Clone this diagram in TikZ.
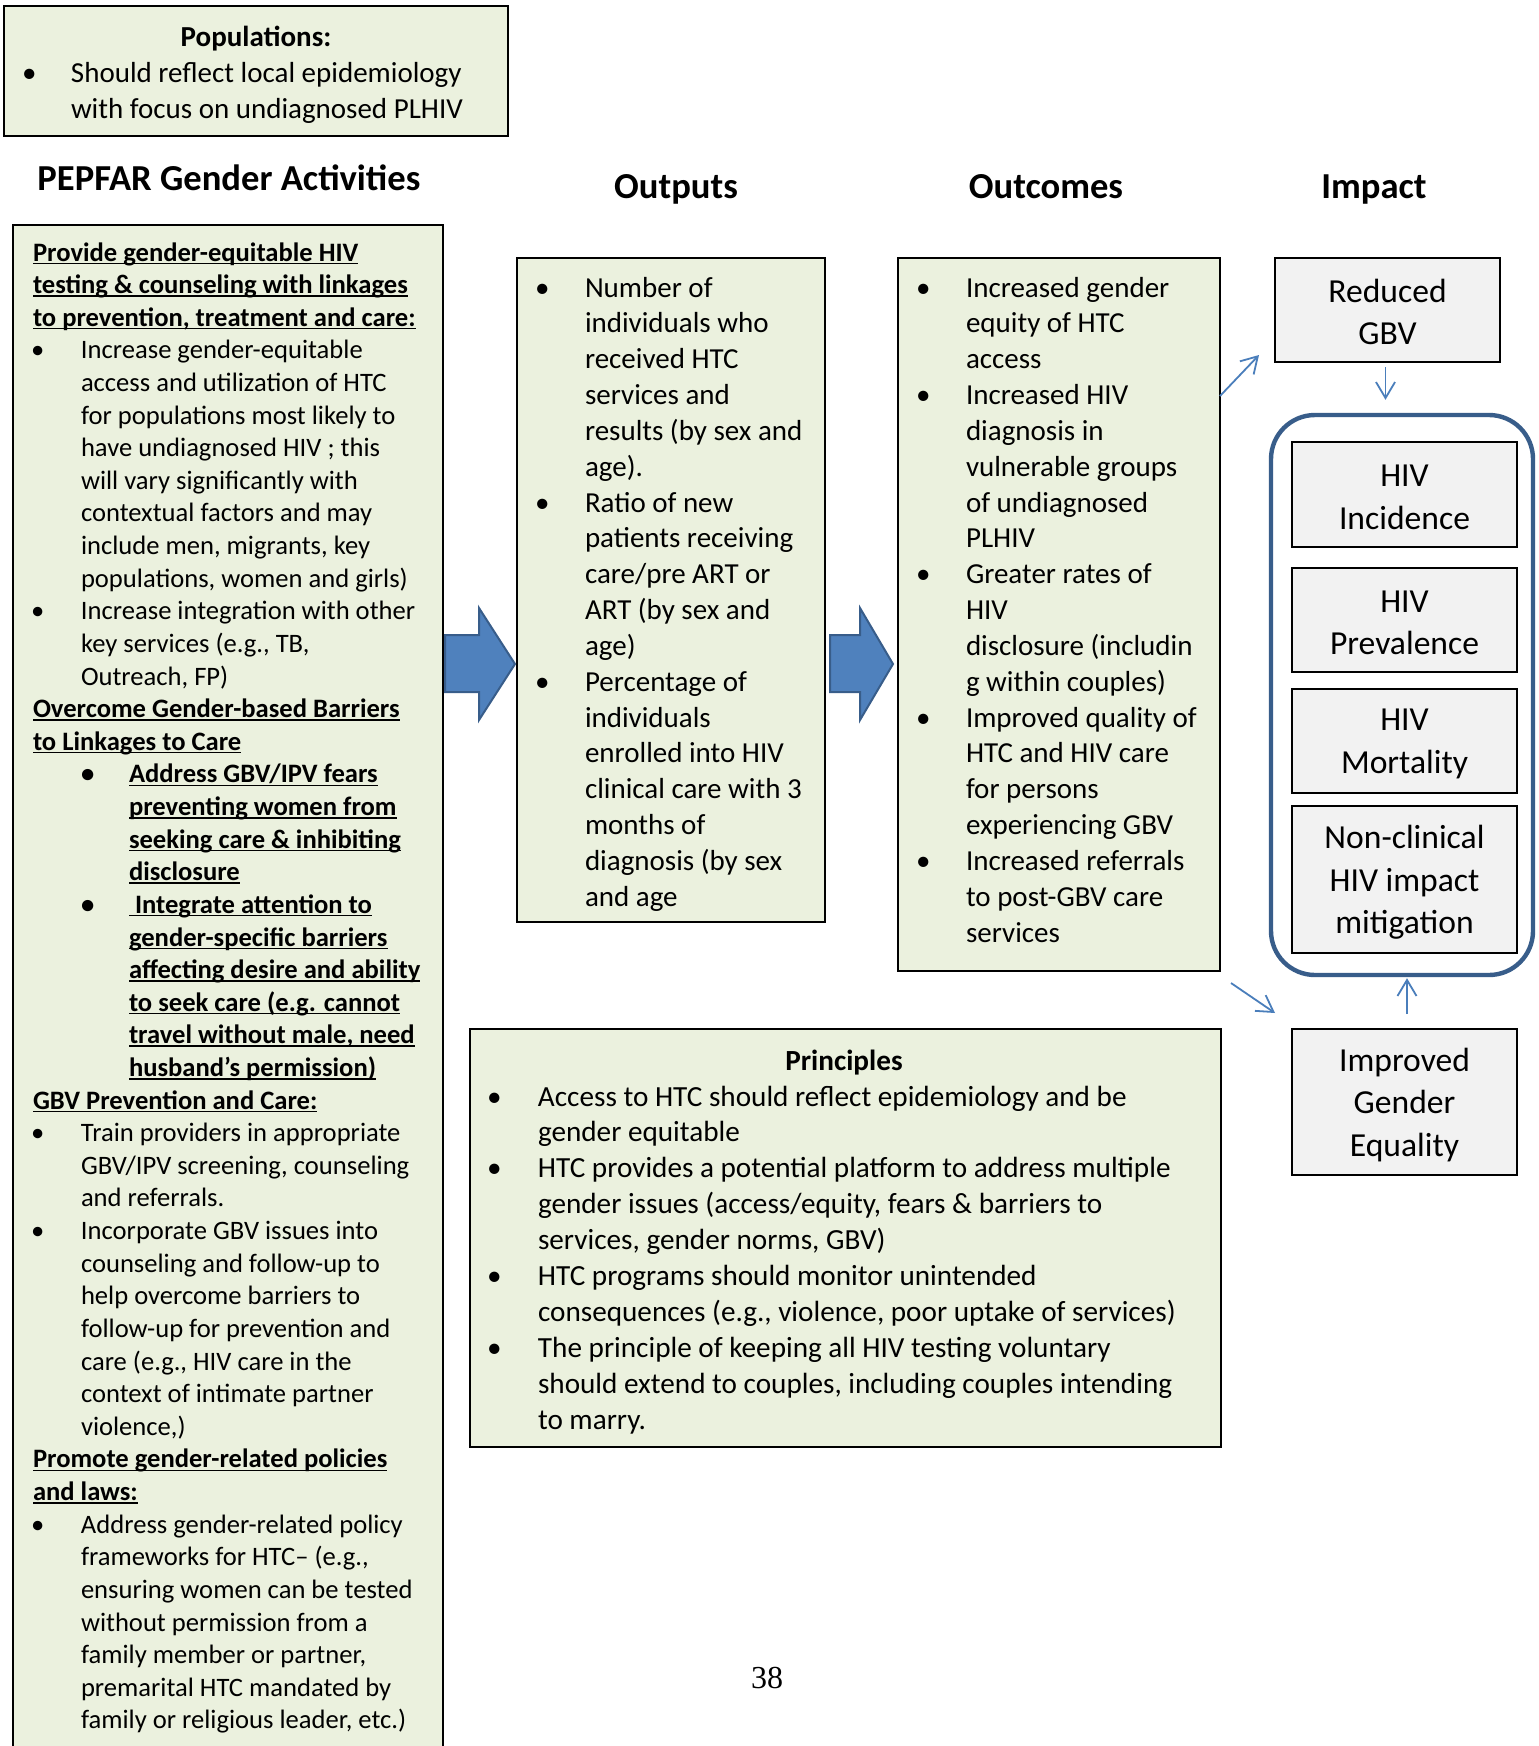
\documentclass[tikz,border=0pt]{standalone}
\usepackage{fontspec}
\setmainfont{Carlito}
\newfontfamily\timesfont{Liberation Serif}
\usetikzlibrary{calc,fit,arrows.meta}
\definecolor{boxgreen}{HTML}{EBF1DE}
\definecolor{boxgray}{HTML}{F2F2F2}
\definecolor{arrowblue}{HTML}{4F81BD}
\definecolor{arrowedge}{HTML}{385D8A}
\definecolor{thinblue}{HTML}{4A7EBB}
\newcommand\blk[2]{\vtop{\baselineskip=#1\relax\lineskiplimit=-100pt\lineskip=0pt\halign{##\hfil\cr#2\crcr}}}
\newcommand\ulb[1]{\setbox0\hbox{\bfseries #1}\rlap{\rule[-1.5pt]{\wd0}{0.7pt}}\box0}
\newcommand\bul{\hspace*{-3pt}•}
\newcommand\bA{\hspace*{2pt}\makebox[22pt][l]{\bul}}
\newcommand\cA{\hspace*{24pt}}
\newcommand\bB{\hspace*{27pt}\makebox[21pt][l]{\bfseries\bul}}
\newcommand\cB{\hspace*{48pt}}
\newcommand\bO{\makebox[22pt][l]{\bul}}
\newcommand\cO{\hspace*{22pt}}
\newcommand\bU{\makebox[21.5pt][l]{\bul}}
\newcommand\cU{\hspace*{21.5pt}}
\newcommand\bP{\makebox[22.5pt][l]{\bul}}
\newcommand\cP{\hspace*{22.5pt}}
\tikzset{
  greenbox/.style={draw=black, line width=1pt, fill=boxgreen, inner sep=0pt, outer sep=0pt},
  graybox/.style={draw=black, line width=1pt, fill=boxgray, inner sep=0pt, outer sep=0pt},
  txt/.style={anchor=base west, inner sep=0pt, outer sep=0pt},
  heading/.style={anchor=base, inner sep=0pt, font=\bfseries\fontsize{18.3}{22}\selectfont},
  imptext/.style={align=center, inner sep=0pt, font=\fontsize{16.8}{21.2}\selectfont},
  blockarrow/.style={fill=arrowblue, draw=arrowedge, line width=1pt, line join=miter},
  thinarrow/.style={draw=thinblue, line width=0.9pt, -{Straight Barb[length=8pt,width=9.5pt]}},
}
\begin{document}
\begin{tikzpicture}[x=0.5pt,y=-0.5pt]
\useasboundingbox[fill=white] (0,0) rectangle (1538,1746);
\clip (0,0) rectangle (1538,1746);

% Populations box
\node[greenbox, fit={(4,6) (508,136)}] (pop) {};
\node[anchor=base, inner sep=0pt, font=\bfseries\fontsize{14.5}{18}\selectfont] (poptitle) at (256,46) {Populations:};
\node[txt, font=\fontsize{14.5}{18}\selectfont] (poptext) at (28,82) {\blk{18pt}{%
\bU Should reflect local epidemiology\cr
\cU with focus on undiagnosed PLHIV\cr}};

% Headings
\node[heading] (hpep) at (229,190) {PEPFAR Gender Activities};
\node[heading] (hout) at (676,198) {Outputs};
\node[heading] (houtc) at (1046,198) {Outcomes};
\node[heading] (himp) at (1374,198) {Impact};

% Activities box
\node[greenbox, fit={(13,225) (443,1770)}] (act) {};
\node[txt, font=\fontsize{13.3}{16.31}\selectfont] (acttext) at (33,261) {\blk{16.31pt}{%
\ulb{Provide gender-equitable HIV}\cr
\ulb{testing \& counseling with linkages}\cr
\ulb{to prevention, treatment and care:}\cr
\bA Increase gender-equitable\cr
\cA access and utilization of HTC\cr
\cA for populations most likely to\cr
\cA have undiagnosed HIV ; this\cr
\cA will vary significantly with\cr
\cA contextual factors and may\cr
\cA include men, migrants, key\cr
\cA populations, women and girls)\cr
\bA Increase integration with other\cr
\cA key services (e.g., TB,\cr
\cA Outreach, FP)\cr
\ulb{Overcome Gender-based Barriers}\cr
\ulb{to Linkages to Care}\cr
\bB\ulb{Address GBV/IPV fears}\cr
\cB\ulb{preventing women from}\cr
\cB\ulb{seeking care \& inhibiting}\cr
\cB\ulb{disclosure}\cr
\bB\ulb{\ Integrate attention to}\cr
\cB\ulb{gender-specific barriers}\cr
\cB\ulb{affecting desire and ability}\cr
\cB\ulb{to seek care (e.g. cannot}\cr
\cB\ulb{travel without male, need}\cr
\cB\ulb{husband’s permission)}\cr
\ulb{GBV Prevention and Care:}\cr
\bA Train providers in appropriate\cr
\cA GBV/IPV screening, counseling\cr
\cA and referrals.\cr
\bA Incorporate GBV issues into\cr
\cA counseling and follow-up to\cr
\cA help overcome barriers to\cr
\cA follow-up for prevention and\cr
\cA care (e.g., HIV care in the\cr
\cA context of intimate partner\cr
\cA violence,)\cr
\ulb{Promote gender-related policies}\cr
\ulb{and laws:}\cr
\bA Address gender-related policy\cr
\cA frameworks for HTC– (e.g.,\cr
\cA ensuring women can be tested\cr
\cA without permission from a\cr
\cA family member or partner,\cr
\cA premarital HTC mandated by\cr
\cA family or religious leader, etc.)\cr}};

% Outputs box
\node[greenbox, fit={(517,258) (825,922)}] (outp) {};
\node[txt, font=\fontsize{14.5}{17.92}\selectfont] (outptext) at (541,297) {\blk{17.92pt}{%
\bO Number of\cr
\cO individuals who\cr
\cO received HTC\cr
\cO services and\cr
\cO results (by sex and\cr
\cO age).\cr
\bO Ratio of new\cr
\cO patients receiving\cr
\cO care/pre ART or\cr
\cO ART (by sex and\cr
\cO age)\cr
\bO Percentage of\cr
\cO individuals\cr
\cO enrolled into HIV\cr
\cO clinical care with 3\cr
\cO months of\cr
\cO diagnosis (by sex\cr
\cO and age\cr}};

% Outcomes box
\node[greenbox, fit={(898,258) (1220,971)}] (outc) {};
\node[txt, font=\fontsize{14.5}{17.92}\selectfont] (outctext) at (922,297) {\blk{17.92pt}{%
\bO Increased gender\cr
\cO equity of HTC\cr
\cO access\cr
\bO Increased HIV\cr
\cO diagnosis in\cr
\cO vulnerable groups\cr
\cO of undiagnosed\cr
\cO PLHIV\cr
\bO Greater rates of\cr
\cO HIV\cr
\cO disclosure (includin\cr
\cO g within couples)\cr
\bO Improved quality of\cr
\cO HTC and HIV care\cr
\cO for persons\cr
\cO experiencing GBV\cr
\bO Increased referrals\cr
\cO to post-GBV care\cr
\cO services\cr}};

% Principles box
\node[greenbox, fit={(470,1029) (1221,1447)}] (prin) {};
\node[anchor=base, inner sep=0pt, font=\bfseries\fontsize{14.6}{17.95}\selectfont] (printitle) at (844,1070) {Principles};
\node[txt, font=\fontsize{14.6}{17.95}\selectfont] (printext) at (493,1106) {\blk{17.95pt}{%
\bP Access to HTC should reflect epidemiology and be\cr
\cP gender equitable\cr
\bP HTC provides a potential platform to address multiple\cr
\cP gender issues (access/equity, fears \& barriers to\cr
\cP services, gender norms, GBV)\cr
\bP HTC programs should monitor unintended\cr
\cP consequences (e.g., violence, poor uptake of services)\cr
\bP The principle of keeping all HIV testing voluntary\cr
\cP should extend to couples, including couples intending\cr
\cP to marry.\cr}};

% Impact boxes
\node[graybox, fit={(1275,258) (1500,362)}] (gbv) {};
\node[imptext] (gbvtext) at ($(gbv)+(0,2)$) {Reduced\\GBV};
\node[draw=arrowedge, line width=2.2pt, rounded corners=22pt, inner sep=0pt, fit={(1271,415) (1533,975)}] (cont) {};
\node[graybox, fit={(1292,442) (1517,547)}] (inc) {};
\node[imptext] (inctext) at ($(inc)+(0,3)$) {HIV\\Incidence};
\node[graybox, fit={(1292,568) (1517,672)}] (prev) {};
\node[imptext] (prevtext) at ($(prev)+(0,3)$) {HIV\\Prevalence};
\node[graybox, fit={(1292,689) (1517,793)}] (mort) {};
\node[imptext] (morttext) at ($(mort)+(0,3)$) {HIV\\Mortality};
\node[graybox, fit={(1292,806) (1517,953)}] (nonc) {};
\node[imptext] (nonctext) at ($(nonc)+(0,3)$) {Non-clinical\\HIV impact\\mitigation};
\node[graybox, fit={(1292,1029) (1517,1175)}] (ige) {};
\node[imptext] (igetext) at ($(ige)+(0,3)$) {Improved\\Gender\\Equality};

% Block arrows
\draw[blockarrow] (445,635) -- (479,635) -- (479,608) -- (515,664) -- (479,720) -- (479,692) -- (445,692) -- cycle;
\draw[blockarrow] (830,635) -- (860,635) -- (860,608) -- (893,664) -- (860,720) -- (860,692) -- (830,692) -- cycle;

% Thin arrows
\draw[thinarrow] ($(outc.north east)+(0,138)$) -- ($(gbv.south west)+(-16,-7)$);
\draw[thinarrow] ($(outc.south east)+(11,12)$) -- ($(ige.north west)+(-17,-16)$);
\draw[thinarrow] ($(gbv.south)+(-2,5)$) -- ($(gbv.south |- cont.north)+(-2,-13)$);
\draw[thinarrow] ($(ige.north)+(2.5,-15)$) -- ($(ige.north |- cont.south)+(2.5,1)$);

% Page number
\node[anchor=base, inner sep=0pt, font=\timesfont\fontsize{16}{19}\selectfont] (pg) at (767,1688) {38};
\end{tikzpicture}
\end{document}
